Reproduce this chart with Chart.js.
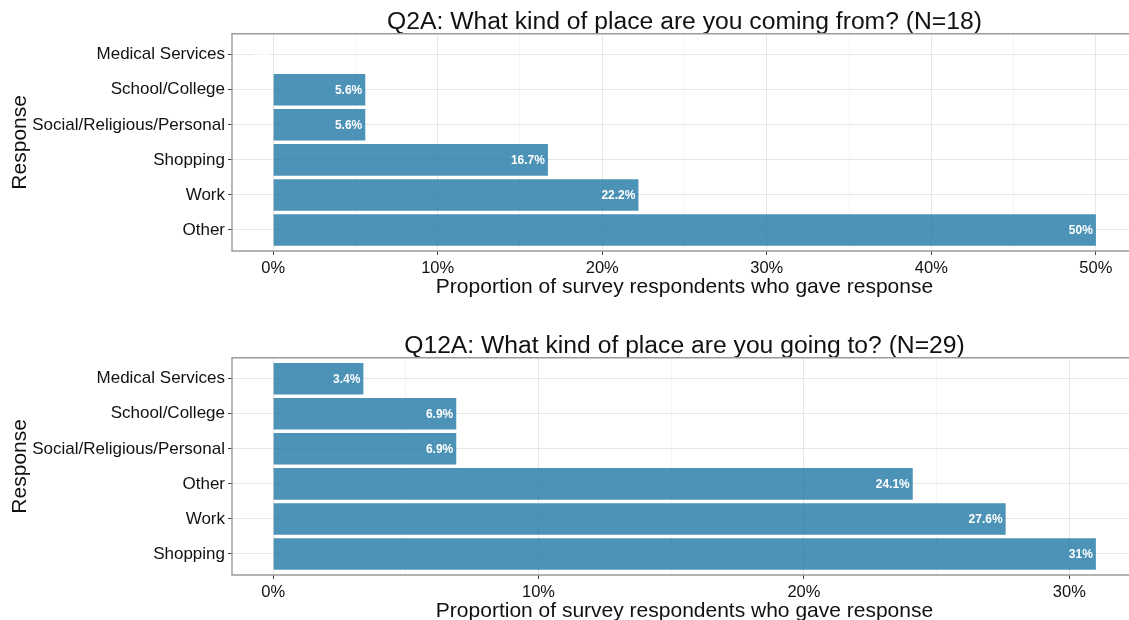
<!DOCTYPE html>
<html>
<head>
<meta charset="utf-8">
<script src="https://cdn.jsdelivr.net/npm/chart.js@4/dist/chart.umd.min.js"></script>
<style>
html, body { margin: 0; padding: 0; overflow: hidden; background: #fff; width: 1129px; height: 620px; }
.panel { position: absolute; left: 0; width: 1140px; height: 310px; }
#p1 { top: 0; }
#p2 { top: 324px; }
</style>
</head>
<body>
<div class="panel" id="p1"><canvas id="c1" width="1140" height="310"></canvas></div>
<div class="panel" id="p2"><canvas id="c2" width="1140" height="310"></canvas></div>
<script>
// ---- Data ----
const title1 = 'Q2A: What kind of place are you coming from? (N=18)';
const cats1 = ['Medical Services', 'School/College', 'Social/Religious/Personal', 'Shopping', 'Work', 'Other'];
const vals1 = [0, 5.6, 5.6, 16.7, 22.2, 50];
const xTicks1 = [0, 5, 10, 15, 20, 25, 30, 35, 40, 45, 50];

const title2 = 'Q12A: What kind of place are you going to? (N=29)';
const cats2 = ['Medical Services', 'School/College', 'Social/Religious/Personal', 'Other', 'Work', 'Shopping'];
const vals2 = [3.4, 6.9, 6.9, 24.1, 27.6, 31.0];
const xTicks2 = [0, 5, 10, 15, 20, 25, 30];

const xTitle = 'Proportion of survey respondents who gave response';
const yTitle = 'Response';

const FONT = "'Liberation Sans', Arial, sans-serif";
const TXT = '#111111';
const BAR = 'rgba(31,120,165,0.8)';

function fmtPct(v) { return Number(v.toFixed(1)) + '%'; }

const panelPlugin = {
  id: 'panelDecor',
  afterDatasetsDraw(chart, args, opts) {
    const ctx = chart.ctx;
    const a = chart.chartArea;
    const meta = chart.getDatasetMeta(0);
    ctx.save();
    ctx.font = "bold 12px " + FONT;
    ctx.fillStyle = '#ffffff';
    ctx.textAlign = 'right';
    ctx.textBaseline = 'middle';
    meta.data.forEach((bar, i) => {
      ctx.fillText(fmtPct(opts.values[i]), bar.x - 3, bar.y + 1);
    });
    ctx.strokeStyle = '#9a9a9a';
    ctx.lineWidth = 1.4;
    ctx.beginPath();
    ctx.moveTo(a.right + 5, a.top);
    ctx.lineTo(a.left, a.top);
    ctx.lineTo(a.left, a.bottom);
    ctx.lineTo(a.right + 5, a.bottom);
    ctx.stroke();
    ctx.restore();
  }
};

function makeChart(id, title, cats, vals, xTicks, xMin, xMax) {
  const data = vals.map((v, i) => ({ x: v, y: i }));
  return new Chart(document.getElementById(id), {
    type: 'bar',
    data: {
      datasets: [{
        data: data,
        backgroundColor: BAR,
        borderWidth: 0,
        barPercentage: 0.9,
        categoryPercentage: 1.0
      }]
    },
    plugins: [panelPlugin],
    options: {
      indexAxis: 'y',
      responsive: false,
      animation: false,
      layout: { padding: { left: 0, right: 3, top: 0, bottom: 0 } },
      plugins: {
        legend: { display: false },
        tooltip: { enabled: false },
        title: {
          display: true,
          text: title,
          fullSize: false,
          color: TXT,
          font: { family: FONT, size: 24.7, weight: 'normal', lineHeight: 0.92 },
          padding: { top: 11, bottom: 0 }
        },
        panelDecor: { values: vals }
      },
      scales: {
        x: {
          type: 'linear',
          min: xMin,
          max: xMax,
          offset: false,
          afterFit(scale) { scale.height = 59; },
          afterBuildTicks(scale) { scale.ticks = xTicks.map(v => ({ value: v })); },
          border: { display: false },
          grid: {
            offset: false,
            drawTicks: true,
            tickLength: 4,
            color: (c) => (c.tick && c.tick.value % 10 === 0) ? '#e6e6e6' : '#f2f2f2',
            lineWidth: (c) => (c.tick && c.tick.value % 10 === 0) ? 1 : 0.8,
            tickColor: (c) => (c.tick && c.tick.value % 10 === 0) ? '#444444' : 'rgba(0,0,0,0)'
          },
          ticks: {
            autoSkip: false,
            maxRotation: 0,
            padding: 4,
            color: TXT,
            font: { family: FONT, size: 16.5 },
            callback: (v) => (v % 10 === 0 ? v + '%' : '')
          },
          title: {
            display: true,
            text: xTitle,
            color: TXT,
            font: { family: FONT, size: 21 },
            padding: { top: 0, bottom: 10 }
          }
        },
        y: {
          type: 'linear',
          min: -0.6,
          max: cats.length - 0.4,
          reverse: true,
          offset: false,
          afterFit(scale) { scale.width = 232; },
          afterBuildTicks(scale) { scale.ticks = cats.map((c, i) => ({ value: i })); },
          border: { display: false },
          grid: {
            offset: false,
            drawTicks: true,
            tickLength: 4,
            color: '#e6e6e6',
            lineWidth: 1,
            tickColor: '#444444'
          },
          ticks: {
            autoSkip: false,
            padding: 3,
            color: TXT,
            font: { family: FONT, size: 17 },
            callback: (v) => cats[v]
          },
          title: {
            display: true,
            text: yTitle,
            color: TXT,
            font: { family: FONT, size: 21 },
            padding: { top: 8, bottom: 0 }
          }
        }
      }
    }
  });
}

makeChart('c1', title1, cats1, vals1, xTicks1, -2.5, 52.5);
makeChart('c2', title2, cats2, vals2, xTicks2, -1.55, 32.55);
</script>
</body>
</html>
